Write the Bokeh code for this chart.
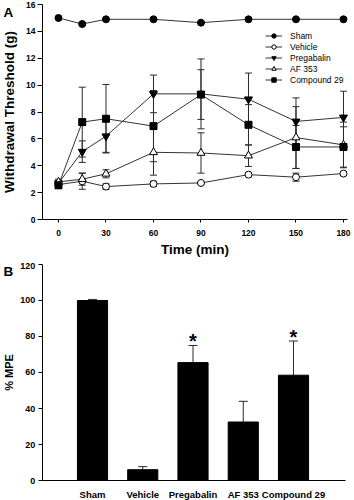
from bokeh.plotting import figure
from bokeh.layouts import column
from bokeh.models import (ColumnDataSource, Whisker, TeeHead, Legend, LegendItem,
                          FixedTicker, Range1d, Label)
from bokeh.core.properties import value
from bokeh.embed import file_html
from bokeh.resources import INLINE

# ---------------- data: panel A ----------------
times = [0, 15, 30, 60, 90, 120, 150, 180]
sham = [15.0, 14.55, 14.9, 14.9, 14.65, 14.9, 14.9, 14.9]
sham_err = [0.05, 0.1, 0.05, 0.05, 0.05, 0.05, 0.05, 0.05]
vehicle = [2.6, 2.85, 2.45, 2.65, 2.72, 3.34, 3.15, 3.42]
vehicle_err = [0.3, 0.6, 0.2, 0.2, 0.1, 0.15, 0.3, 0.15]
pregabalin = [2.7, 5.05, 6.2, 9.35, 9.35, 8.95, 7.3, 7.6]
pregabalin_err = [0.2, 0.8, 1.2, 1.4, 2.6, 1.95, 1.75, 1.95]
af353 = [2.8, 3.0, 3.4, 5.0, 4.95, 4.75, 6.1, 5.55]
af353_err = [0.2, 0.45, 0.3, 1.7, 1.5, 0.8, 2.3, 1.7]
compound29 = [2.55, 7.25, 7.5, 6.95, 9.3, 7.05, 5.4, 5.4]
compound29_err = [0.2, 2.6, 2.55, 2.65, 1.85, 1.5, 1.6, 1.5]

series_names = ["Sham", "Vehicle", "Pregabalin", "AF 353", "Compound 29"]
series_vals = [sham, vehicle, pregabalin, af353, compound29]
series_errs = [sham_err, vehicle_err, pregabalin_err, af353_err, compound29_err]
series_markers = ["circle", "circle", "inverted_triangle", "triangle", "square"]
series_fill = ["black", "white", "black", "white", "black"]

x_ticks = [0, 30, 60, 90, 120, 150, 180]
y_ticks_a = [0, 2, 4, 6, 8, 10, 12, 14, 16]

# ---------------- data: panel B ----------------
groups = ["Sham", "Vehicle", "Pregabalin", "AF 353", "Compound 29"]
mpe = [100.0, 6.0, 65.5, 32.5, 58.5]
mpe_err = [0.6, 1.7, 9.5, 11.5, 19.0]
significant = [False, False, True, False, True]
y_ticks_b = [0, 20, 40, 60, 80, 100, 120]

FONT = "Liberation Sans"
LINE = "#2a2a2a"


def style_axes(p, tick_size):
    for ax in (p.xaxis[0], p.yaxis[0]):
        ax.major_label_text_font = FONT
        ax.major_label_text_font_style = "bold"
        ax.major_label_text_font_size = tick_size
        ax.major_label_text_color = "black"
        ax.axis_label_text_font = FONT
        ax.axis_label_text_font_style = "bold"
        ax.axis_label_text_color = "black"
        ax.axis_line_color = "black"
        ax.major_tick_line_color = "black"
        ax.minor_tick_line_color = None
        ax.major_tick_in = 0
    p.grid.visible = False
    p.outline_line_color = None


# ---------------- panel A (frame spans whole canvas, axes fixed inside) ----------------
XA = (-36.63, 186.95)
YA = (-3.2, 16.3)
pa = figure(width=354, height=262, output_backend="svg", toolbar_location=None,
            x_range=Range1d(*XA), y_range=Range1d(*YA), min_border=0)
style_axes(pa, "8.5px")
pa.xaxis.fixed_location = 0
pa.yaxis.fixed_location = -10.1
pa.xaxis.bounds = (-10.1, 182.5)
pa.yaxis.bounds = (y_ticks_a[0], y_ticks_a[-1])
pa.xaxis.ticker = FixedTicker(ticks=x_ticks)
pa.yaxis.ticker = FixedTicker(ticks=y_ticks_a)
pa.xaxis.major_tick_out = 3
pa.yaxis.major_tick_out = 5
pa.xaxis.major_label_standoff = 7
pa.yaxis.major_label_standoff = 2
pa.xaxis.axis_label = "Time (min)"
pa.xaxis.axis_label_text_font_size = "13.5px"
pa.xaxis.axis_label_standoff = 3
pa.yaxis.axis_label = "Withdrawal Threshold (g)"
pa.yaxis.axis_label_text_font_size = "13.5px"
pa.yaxis.axis_label_standoff = 6

items = []
for name, vals, errs, mk, fill in zip(series_names, series_vals, series_errs,
                                      series_markers, series_fill):
    src = ColumnDataSource(dict(x=times, y=vals,
                                lo=[v - e for v, e in zip(vals, errs)],
                                hi=[v + e for v, e in zip(vals, errs)]))
    w = Whisker(base="x", lower="lo", upper="hi", source=src, dimension="height",
                line_color=LINE, line_width=1,
                upper_head=TeeHead(size=7, line_color=LINE, line_width=1),
                lower_head=TeeHead(size=7, line_color=LINE, line_width=1))
    pa.add_layout(w)
    ln = pa.line("x", "y", source=src, line_color="#333333", line_width=1)
    sz = 8 if "triangle" in mk else 7
    sc = pa.scatter("x", "y", source=src, marker=mk, size=sz, fill_color=fill,
                    line_color="black", line_width=1)
    items.append(LegendItem(label=name, renderers=[ln, sc]))

leg = Legend(items=items, location=(265, 177), orientation="vertical",
             glyph_width=17, glyph_height=11, label_height=11, spacing=0,
             padding=0, margin=0, label_standoff=8,
             label_text_font=FONT, label_text_font_size="8.5px",
             label_text_color="black", border_line_color=None,
             background_fill_alpha=0)
pa.add_layout(leg)

pa.add_layout(Label(x=XA[0], y=y_ticks_a[-1], x_offset=3, text="A",
                    text_font=FONT, text_font_style="bold",
                    text_font_size="13.5px", text_baseline="top",
                    text_color="black"))

# ---------------- panel B ----------------
positions = [i + 1 for i in range(len(groups))]
XB = (-0.831, 6.214)
YB = (-11.11, 121.11)
pb = figure(width=354, height=238, output_backend="svg", toolbar_location=None,
            x_range=Range1d(*XB), y_range=Range1d(*YB), min_border=0)
style_axes(pb, "9px")
pb.xaxis.fixed_location = 0
pb.yaxis.fixed_location = 0
pb.xaxis.bounds = (0, 6.03)
pb.yaxis.bounds = (y_ticks_b[0], y_ticks_b[-1])
pb.yaxis.ticker = FixedTicker(ticks=y_ticks_b)
pb.xaxis.ticker = FixedTicker(ticks=positions)
pb.xaxis.major_label_overrides = {p: g for p, g in zip(positions, groups)}
pb.yaxis.major_tick_out = 4
pb.yaxis.major_label_standoff = 3
pb.xaxis.major_tick_out = 0
pb.xaxis.major_label_standoff = 8
pb.xaxis.major_label_text_font_size = "9.5px"
pb.yaxis.axis_label = "% MPE"
pb.yaxis.axis_label_text_font_size = "11px"
pb.yaxis.axis_label_standoff = 2

srcb = ColumnDataSource(dict(x=positions, v=mpe,
                             hi=[v + e for v, e in zip(mpe, mpe_err)],
                             star=["*" if s else "" for s in significant]))
wb = Whisker(base="x", lower="v", upper="hi", source=srcb, dimension="height",
             line_color=LINE, line_width=1,
             upper_head=TeeHead(size=9, line_color=LINE, line_width=1),
             lower_head=None)
pb.add_layout(wb)
pb.vbar(x="x", top="v", width=0.6, source=srcb, fill_color="black",
        line_color="black")
pb.text(x="x", y="hi", text="star", source=srcb, text_font=value(FONT),
        text_font_style="bold", text_font_size="20px", text_align="center",
        text_baseline="middle", y_offset=-4, text_color="black")

pb.add_layout(Label(x=XB[0], y=y_ticks_b[-1], x_offset=3, text="B",
                    text_font=FONT, text_font_style="bold",
                    text_font_size="13.5px", text_baseline="top",
                    text_color="black"))

layout = column(pa, pb, spacing=0)
open("out.html", "w").write(file_html(layout, INLINE))
